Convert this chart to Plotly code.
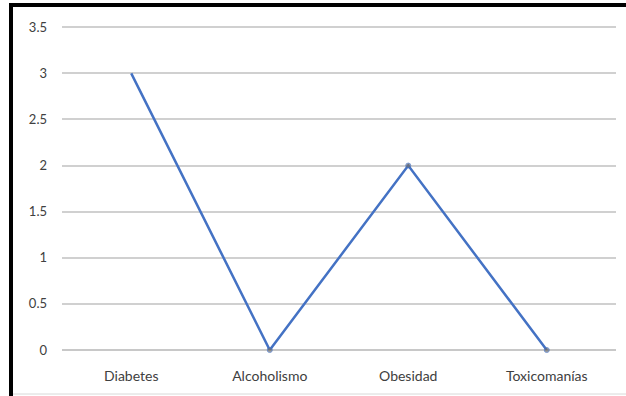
import plotly.graph_objects as go

# Chart data
categories = ["Diabetes", "Alcoholismo", "Obesidad", "Toxicomanías"]
values = [3, 0, 2, 0]
y_ticks = [0, 0.5, 1, 1.5, 2, 2.5, 3, 3.5]
y_tick_labels = ["0", "0.5", "1", "1.5", "2", "2.5", "3", "3.5"]

W, H = 626, 396
L, R, T, B = 62, 10, 18, 46
pw, ph = W - L - R, H - T - B
Y_MAX = 3.6


def px_x(px):
    return (px - L) / pw


def px_y(py):
    return (H - B - py) / ph


fig = go.Figure()
fig.add_trace(go.Scatter(
    x=categories,
    y=values,
    mode="lines+markers",
    line=dict(color="#4472C4", width=2.5),
    marker=dict(color="#6f6f6f", size=[0, 5, 5, 5], symbol="circle"),
    showlegend=False,
    cliponaxis=False,
))

text_font = dict(family="Lato, 'Open Sans', sans-serif", size=14, color="#404040")
tick_font = dict(family="Lato, 'Open Sans', sans-serif", size=13, color="#404040")

fig.update_layout(
    width=W,
    height=H,
    margin=dict(l=L, r=R, t=T, b=B),
    paper_bgcolor="white",
    plot_bgcolor="white",
    font=text_font,
    xaxis=dict(
        type="category",
        range=[-0.5, 3.5],
        showgrid=False,
        showline=False,
        zeroline=False,
        ticks="",
        ticklabelstandoff=16,
        tickfont=text_font,
    ),
    yaxis=dict(
        range=[0, Y_MAX],
        tickvals=y_ticks,
        ticktext=y_tick_labels,
        showgrid=True,
        gridcolor="#d0d0d0",
        gridwidth=1.5,
        zeroline=True,
        zerolinecolor="#c8c8c8",
        zerolinewidth=1.5,
        showline=False,
        ticks="",
        ticklabelstandoff=14,
        tickfont=tick_font,
    ),
    shapes=[
        # frame: thick black left and top edges, thin grey bottom edge
        dict(type="line", xref="paper", yref="paper",
             x0=px_x(11), x1=px_x(11), y0=px_y(3), y1=px_y(396),
             line=dict(color="black", width=4)),
        dict(type="line", xref="paper", yref="paper",
             x0=px_x(9), x1=px_x(626), y0=px_y(5), y1=px_y(5),
             line=dict(color="black", width=4)),
        dict(type="line", xref="paper", yref="paper",
             x0=px_x(13), x1=px_x(626), y0=px_y(394), y1=px_y(394),
             line=dict(color="#d8d8d8", width=1)),
    ],
)

fig.write_html("out.html")
